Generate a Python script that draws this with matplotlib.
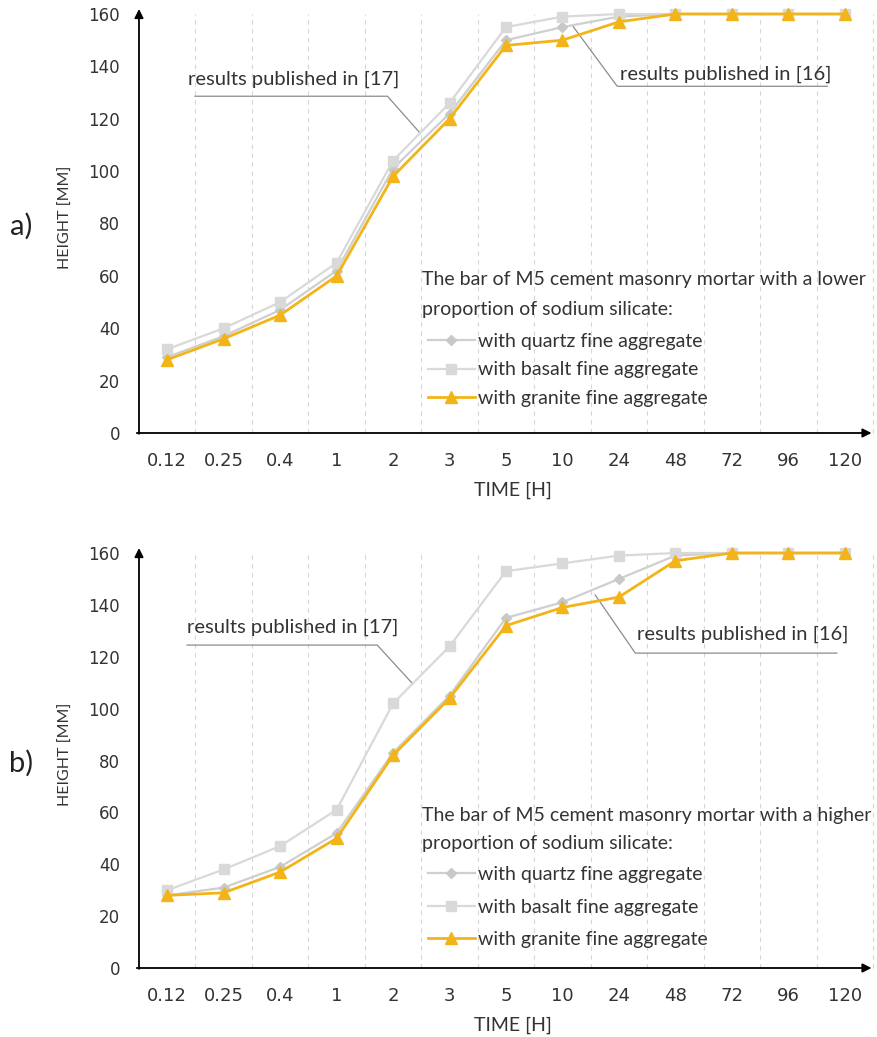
import matplotlib
matplotlib.use('Agg')
import matplotlib.pyplot as plt

plt.rcParams['font.family'] = ['Lato', 'DejaVu Sans']

# ---------------- data ----------------
time_labels = ['0.12', '0.25', '0.4', '1', '2', '3', '5', '10', '24', '48', '72', '96', '120']
y_ticks = [0, 20, 40, 60, 80, 100, 120, 140, 160]

a_quartz = [29, 37, 47, 62, 101, 122, 150, 155, 159, 160, 160, 160, 160]
a_basalt = [32, 40, 50, 65, 104, 126, 155, 159, 160, 160, 160, 160, 160]
a_granite = [28, 36, 45, 60, 98, 120, 148, 150, 157, 160, 160, 160, 160]

b_quartz = [28, 31, 39, 52, 83, 105, 135, 141, 150, 159, 160, 160, 160]
b_basalt = [30, 38, 47, 61, 102, 124, 153, 156, 159, 160, 160, 160, 160]
b_granite = [28, 29, 37, 50, 82, 104, 132, 139, 143, 157, 160, 160, 160]

series_labels = ['with quartz fine aggregate', 'with basalt fine aggregate',
                 'with granite fine aggregate']
titles = ['The bar of M5 cement masonry mortar with a lower\nproportion of sodium silicate:',
          'The bar of M5 cement masonry mortar with a higher\nproportion of sodium silicate:']
panel_labels = ['a)', 'b)']
ref_labels = ['results published in [17]', 'results published in [16]']

# ---------------- style ----------------
W, H = 878, 1037
ORANGE = '#F2B418'
GREY_Q = '#CFCFCF'
GREY_B = '#D9D9D9'
TXT = '#333333'
FS = 14
TICK_FONT = ['DejaVu Sans']

fig = plt.figure(figsize=(W / 100, H / 100), dpi=100)


def fx(px):
    return px / W


def fy(py):
    return 1 - py / H


# axes boxes in pixels (left, right, y of 0, y of 160)
boxes = [(139, 873, 433, 14), (139, 873, 968, 553)]

# annotation layout (data coords): text pos, underline x-range & y, diagonal end
ann = [
    dict(t17=(0.37, 135.0), u17=(0.49, 3.9, 128.6), d17=(4.48, 114.5),
         t16=(8.02, 137.0), u16=(7.97, 11.69, 132.4), d16=(7.19, 155.2)),
    dict(t17=(0.35, 131.5), u17=(0.35, 3.72, 124.5), d17=(4.35, 109.5),
         t16=(8.32, 128.6), u16=(8.29, 11.86, 121.4), d16=(7.58, 143.8)),
]

# legend layout in pixels
leg_layout = [dict(t1=280, t2=310, first=342, spacing=0.59),
              dict(t1=815, t2=843, first=875, spacing=0.80)]

datasets = [(a_quartz, a_basalt, a_granite), (b_quartz, b_basalt, b_granite)]

for k in range(2):
    l, r, y0, y1 = boxes[k]
    ax = fig.add_axes([fx(l), fy(y0), fx(r - l), (y0 - y1) / H])
    x = list(range(len(time_labels)))
    q, b, g = datasets[k]

    # dashed vertical separators
    for xv in [i + 0.5 for i in range(len(time_labels))]:
        ax.axvline(xv, color='#D6D6D6', lw=0.8, ls=(0, (4, 4)), zorder=0, clip_on=False)

    lq, = ax.plot(x, q, color=GREY_Q, lw=1.6, marker='D', ms=5, mfc='#C8C8C8',
                  mec='#C8C8C8', clip_on=False, zorder=3, label=series_labels[0])
    lb, = ax.plot(x, b, color=GREY_B, lw=1.6, marker='s', ms=7.5, mfc=GREY_B,
                  mec=GREY_B, clip_on=False, zorder=3, label=series_labels[1])
    lg, = ax.plot(x, g, color=ORANGE, lw=2.0, marker='^', ms=8.5, mfc=ORANGE,
                  mec=ORANGE, clip_on=False, zorder=4, label=series_labels[2])

    ax.set_xlim(-0.5, len(time_labels) - 0.5)
    ax.set_ylim(0, 160)
    ax.set_xticks(x)
    ax.set_xticklabels(time_labels, fontsize=13, family=TICK_FONT)
    ax.set_yticks(y_ticks)
    ax.set_yticklabels([str(v) for v in y_ticks], fontsize=12, family=TICK_FONT)
    ax.tick_params(axis='both', length=0, colors=TXT)
    ax.tick_params(axis='x', pad=14)
    ax.tick_params(axis='y', pad=13.5)
    for s in ax.spines.values():
        s.set_visible(False)
    ax.patch.set_alpha(0)

    # axis arrows
    ax.annotate('', xy=(0.0, 1.012), xytext=(0.0, -0.002), xycoords='axes fraction',
                arrowprops=dict(arrowstyle='-|>', color='black', lw=1.3,
                                mutation_scale=13, shrinkA=0, shrinkB=0))
    ax.annotate('', xy=(0.998, 0.0), xytext=(-0.003, 0.0), xycoords='axes fraction',
                arrowprops=dict(arrowstyle='-|>', color='black', lw=1.3,
                                mutation_scale=13, shrinkA=0, shrinkB=0))

    # reference annotations
    A = ann[k]
    for key, lab in (('17', ref_labels[0]), ('16', ref_labels[1])):
        tx, ty = A['t' + key]
        ax.text(tx, ty, lab, fontsize=14.5, color=TXT, va='center', ha='left')
        ux0, ux1, uy = A['u' + key]
        dx, dy = A['d' + key]
        if key == '17':
            ax.plot([ux0, ux1, dx], [uy, uy, dy], color='#8C8C8C', lw=0.9, zorder=2)
        else:
            ax.plot([ux1, ux0, dx], [uy, uy, dy], color='#8C8C8C', lw=0.9, zorder=2)

    # legend title and legend
    L = leg_layout[k]
    t1, t2 = titles[k].split('\n')
    fig.text(fx(422), fy(L['t1']), t1, fontsize=FS, color=TXT, va='center', ha='left')
    fig.text(fx(422), fy(L['t2']), t2, fontsize=FS, color=TXT, va='center', ha='left')
    fig.legend(handles=[lq, lb, lg], loc='upper left',
               bbox_to_anchor=(fx(428), fy(L['first'] - 9)), frameon=False,
               fontsize=FS, handlelength=2.4, handletextpad=0.15,
               labelspacing=L['spacing'], borderpad=0, borderaxespad=0, labelcolor=TXT)

    # axis labels and panel labels
    fig.text(fx(66), fy((y0 + y1) / 2 - 6), 'HEIGHT [MM]', rotation=90, fontsize=11.5,
             color=TXT, ha='center', va='center')
    fig.text(fx(513), fy(y0 + 57), 'TIME [H]', fontsize=14, color=TXT,
             ha='center', va='center')
    y80 = y0 - (y0 - y1) * 80 / 160
    fig.text(fx(21), fy(y80 + 3), panel_labels[k], fontsize=21, color='#222222',
             ha='center', va='center')

fig.savefig('out.png', dpi=100)
